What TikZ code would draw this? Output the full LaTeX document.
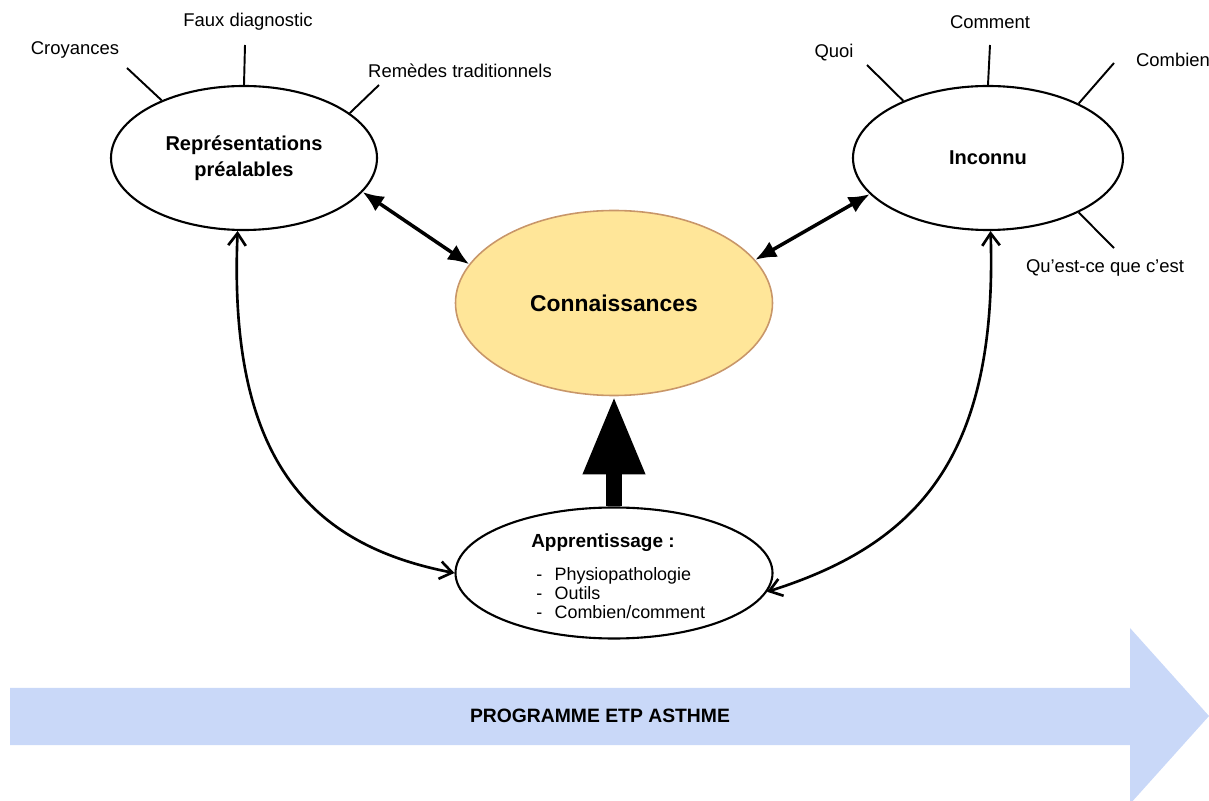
\documentclass[tikz,border=0pt]{standalone}
\usepackage{fontspec}
\setmainfont{Liberation Sans}
\usetikzlibrary{arrows.meta,shapes.geometric}

\definecolor{connfill}{RGB}{255,230,153}
\definecolor{conndraw}{RGB}{200,150,105}
\definecolor{progblue}{RGB}{201,216,248}

\tikzset{
  bubble/.style={ellipse, draw, line width=1.2pt, inner sep=0pt},
  spoke/.style={line width=1.1pt},
  tag/.style={font=\fontsize{10.5}{12.6}\selectfont},
  link/.style={line width=2pt, {Latex[length=12pt,width=10pt]}-{Latex[length=12pt,width=10pt]}},
  loop/.style={line width=1.5pt, {Straight Barb[length=7pt,width=10pt]}-{Straight Barb[length=7pt,width=10pt]}}
}

\begin{document}
\begin{tikzpicture}[x=0.2mm,y=-0.2mm]
  \useasboundingbox (0,0) rectangle (1209,801);

  % programme arrow
  \fill[progblue] (10,688) -- (1130,688) -- (1130,628) -- (1209,716) -- (1130,804) -- (1130,745) -- (10,745) -- cycle;
  \node[font=\bfseries\fontsize{11}{13}\selectfont] (prog) at (600,716) {PROGRAMME ETP ASTHME};

  % ellipses
  \node[bubble, minimum width=53.2mm, minimum height=28.8mm, align=center,
        font=\bfseries\fontsize{11.4}{14.5}\selectfont] (rep) at (244,158) {Représentations\\préalables};
  \node[bubble, minimum width=54mm, minimum height=28.8mm,
        font=\bfseries\fontsize{11.4}{14}\selectfont] (inc) at (988,158) {Inconnu};
  \node[ellipse, draw=conndraw, fill=connfill, line width=0.9pt, minimum width=63.4mm, minimum height=37mm,
        font=\bfseries\fontsize{13}{15}\selectfont] (conn) at (614,303) {Connaissances};
  \node[bubble, minimum width=63.4mm, minimum height=26.2mm] (app) at (614,573) {};
  \node[font=\bfseries\fontsize{10.8}{13}\selectfont] (apptitle) at (603,543) {Apprentissage :};
  \node[anchor=west, font=\fontsize{10.2}{10.8}\selectfont, inner sep=0pt] (applist) at (536,596) {%
    \begin{tabular}{@{}l@{\hspace{7pt}}l@{}}
      - & Physiopathologie\\
      - & Outils\\
      - & Combien/comment
    \end{tabular}};

  % spokes and labels
  \coordinate (croyEnd) at (127,68);
  \coordinate (fauxEnd) at (245,45);
  \coordinate (remEnd) at (379,85);
  \coordinate (quoiEnd) at (867,65);
  \coordinate (commEnd) at (990,45);
  \coordinate (combEnd) at (1114,63);
  \coordinate (questEnd) at (1114,248);
  \draw[spoke] (rep.145) -- (croyEnd);
  \draw[spoke] (rep.north) -- (fauxEnd);
  \draw[spoke] (rep.23) -- (remEnd);
  \draw[spoke] (inc.146) -- (quoiEnd);
  \draw[spoke] (inc.north) -- (commEnd);
  \draw[spoke] (inc.31) -- (combEnd);
  \draw[spoke] (inc.-31) -- (questEnd);
  \node[tag] (croy) at (75,50) {Croyances};
  \node[tag] (faux) at (248,22) {Faux diagnostic};
  \node[tag] (rem) at (460,71) {Remèdes traditionnels};
  \node[tag] (quoi) at (834,53) {Quoi};
  \node[tag] (comm) at (990,22) {Comment};
  \node[tag] (comb) at (1173,60) {Combien};
  \node[tag] (quest) at (1105,268) {Qu’est-ce que c'est};

  % connectors
  \draw[link] (rep.-16) -- (conn.165);
  \draw[link] (inc.197) -- (conn.17);
  \draw[loop] (rep.265) .. controls (228,460) and (310,545) .. (app.west);
  \draw[loop] (inc.272) .. controls (998,460) and (915,545) .. (app.-7);
  \draw[line width=3.2mm, -{Triangle[length=15.6mm,width=11.6mm]}] (app.north) -- (conn.south);
\end{tikzpicture}
\end{document}
